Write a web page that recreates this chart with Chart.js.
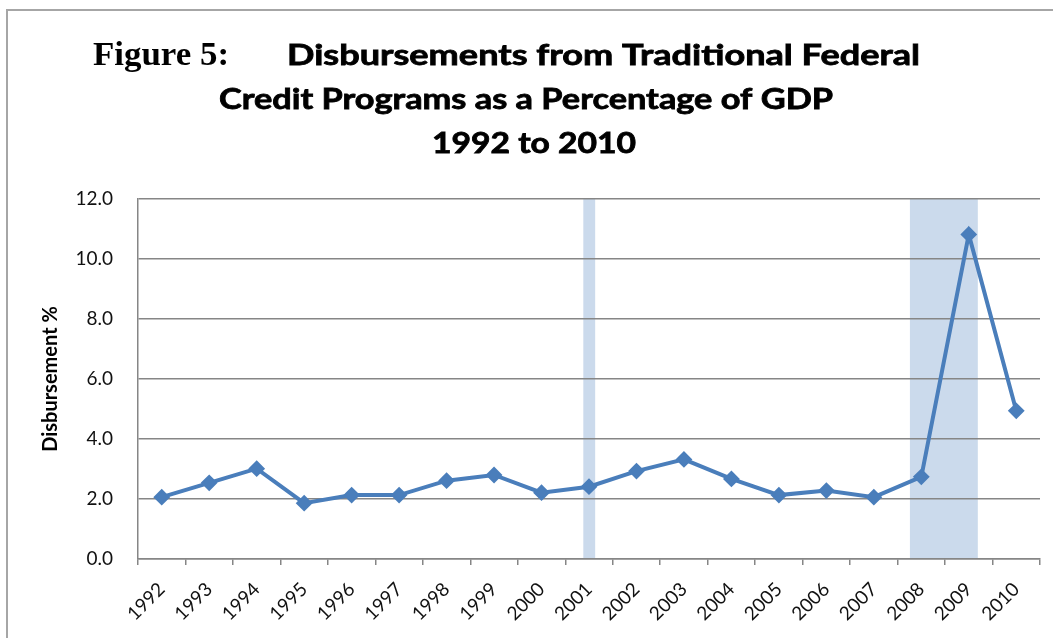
<!DOCTYPE html>
<html>
<head>
<meta charset="utf-8">
<script src="https://cdn.jsdelivr.net/npm/chart.js@4.4.0/dist/chart.umd.min.js"></script>
<style>
    html, body { margin: 0; padding: 0; background: #fff; }
    #wrap { position: relative; width: 1053px; height: 638px; overflow: hidden; }
    #frame { position: absolute; left: 6px; top: 9px; width: 1100px; height: 700px;
             border-left: 2px solid #a6a6a6; border-top: 2px solid #a6a6a6; }
    canvas { position: absolute; left: 0; top: 0; }
</style>
</head>
<body>
<div id="wrap">
    <div id="frame"></div>
    <canvas id="disbChart" width="1053" height="638"></canvas>
</div>
<script>
const years = ['1992', '1993', '1994', '1995', '1996', '1997', '1998', '1999', '2000', '2001',
               '2002', '2003', '2004', '2005', '2006', '2007', '2008', '2009', '2010'];
const disbursement = [2.06, 2.54, 3.01, 1.86, 2.13, 2.13, 2.61, 2.80, 2.21, 2.41,
                      2.93, 3.32, 2.67, 2.13, 2.28, 2.06, 2.74, 10.82, 4.94];
// shaded recession periods, in (fractional) years on the category axis
const recessionFrom = [2000.88, 2007.76];
const recessionTo = [2001.13, 2009.19];

const yMin = 0, yMax = 12, yStep = 2;

// title pieces: text, font, left, right, baseline
const titleParts = [
    ['Figure 5:', 'bold 33px "Liberation Serif"', 93, 229, 65],
    ['Disbursements from Traditional Federal', 'bold 29px Lato', 287, 920, 65],
    ['Credit Programs as a Percentage of GDP', 'bold 29px Lato', 219, 833, 109],
    ['1992 to 2010', 'bold 29px Lato', 432, 636, 153]
];

const gridGray = '#868686';

const recessionBands = {
    id: 'recessionBands',
    beforeDraw(chart) {
        const ctx = chart.ctx;
        const x = chart.scales.x;
        const area = chart.chartArea;
        const first = Number(years[0]);
        ctx.save();
        ctx.fillStyle = 'rgba(185, 205, 229, 0.75)';
        for (let i = 0; i < recessionFrom.length; i++) {
            const x0 = x.getPixelForValue(recessionFrom[i] - first);
            const x1 = x.getPixelForValue(recessionTo[i] - first);
            ctx.fillRect(x0, area.top, x1 - x0, area.bottom - area.top);
        }
        ctx.restore();
    }
};

const figureTitle = {
    id: 'figureTitle',
    afterDraw(chart) {
        const ctx = chart.ctx;
        titleParts.forEach(function(p, i) {
            ctx.save();
            ctx.font = p[1];
            ctx.fillStyle = '#000';
            ctx.strokeStyle = '#000';
            ctx.lineWidth = i === 0 ? 0 : 0.8;
            ctx.textBaseline = 'alphabetic';
            const w = ctx.measureText(p[0]).width;
            ctx.translate(p[2], p[4]);
            ctx.scale((p[3] - p[2]) / w, 1);
            ctx.fillText(p[0], 0, 0);
            if (i > 0) ctx.strokeText(p[0], 0, 0);
            ctx.restore();
        });
    }
};

const ctx = document.getElementById('disbChart').getContext('2d');
new Chart(ctx, {
    type: 'line',
    data: {
        labels: years,
        datasets: [{
            label: 'Disbursement %',
            data: disbursement,
            borderColor: '#4a7ebb',
            backgroundColor: '#4a7ebb',
            borderWidth: 4,
            pointStyle: 'rectRot',
            pointRadius: 7,
            pointBorderWidth: 2,
            pointBackgroundColor: '#4a7ebb',
            tension: 0
        }]
    },
    options: {
        responsive: false,
        animation: false,
        devicePixelRatio: 1,
        layout: { padding: { top: 199, right: 13, left: 0, bottom: 0 } },
        plugins: {
            legend: { display: false },
            tooltip: { enabled: false }
        },
        scales: {
            x: {
                offset: true,
                grid: { offset: true, drawOnChartArea: false, tickLength: 6, color: gridGray, lineWidth: 1.5 },
                border: { color: gridGray, width: 1.5 },
                ticks: {
                    autoSkip: false,
                    maxRotation: 45,
                    minRotation: 45,
                    padding: 13,
                    color: '#111',
                    font: { family: 'Lato', size: 19 }
                },
                afterFit: function(s) { s.height = 79; }
            },
            y: {
                min: yMin,
                max: yMax,
                ticks: {
                    stepSize: yStep,
                    padding: 25,
                    color: '#111',
                    font: { family: 'Lato', size: 19 },
                    callback: function(v) { return v.toFixed(1); }
                },
                grid: { color: gridGray, lineWidth: 1.5, drawTicks: false },
                border: { color: gridGray, width: 1.5 },
                title: {
                    display: true,
                    text: 'Disbursement %',
                    color: '#000',
                    font: { family: 'Lato', size: 20, weight: 'bold' },
                    padding: { top: 39, bottom: 0 }
                },
                afterFit: function(s) { s.width = 138; }
            }
        }
    },
    plugins: [recessionBands, figureTitle]
});
</script>
</body>
</html>
